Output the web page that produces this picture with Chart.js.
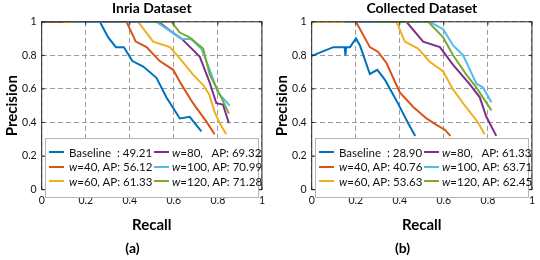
<!DOCTYPE html>
<html>
<head>
<meta charset="utf-8">
<script src="https://cdn.jsdelivr.net/npm/chart.js@4"></script>
<style>
  body { margin: 0; background: #fff; }
  #wrap { position: relative; width: 540px; height: 260px; }
  .panel { position: absolute; top: 0; width: 270px; height: 260px; }
  .panel canvas { position: absolute; left: 0; top: 0; }
  .legend {
    position: absolute; left: 45px; top: 138px; width: 212px; height: 52px;
    background: #fff; border: 1px solid #b4b4b4;
    display: grid; grid-template-columns: 105px 107px; grid-auto-flow: column;
    grid-template-rows: repeat(3, 14.5px); padding-top: 6px; box-sizing: content-box;
    font-family: Lato, sans-serif; font-size: 11.5px; color: #111;
  }
  .item { display: flex; align-items: center; padding-left: 3px; white-space: pre; }
  .item .ln { width: 15px; height: 2px; flex: none; }
  .item .tx { text-align: right; flex: none; }
</style>
</head>
<body>
<div id="wrap">
  <div class="panel" style="left:0"><canvas id="chartA" width="270" height="260"></canvas><div class="legend" id="legendA"></div></div>
  <div class="panel" style="left:270px"><canvas id="chartB" width="270" height="260"></canvas><div class="legend" id="legendB"></div></div>
</div>
<script>
// axis ticks
const tickValues = [0, 0.2, 0.4, 0.6, 0.8, 1];
const tickLabels = ["0", "0.2", "0.4", "0.6", "0.8", "1"];

const seriesNames = ["Baseline", "w=40", "w=60", "w=80", "w=100", "w=120"];
const seriesColors = ["#0072BD", "#D95319", "#EDB120", "#7E2F8E", "#4DBEEE", "#77AC30"];

// Inria dataset, [recall, precision]
const inriaBaseline = [[0, 1], [0.264, 1], [0.302, 0.907], [0.337, 0.849], [0.373, 0.849], [0.412, 0.766], [0.461, 0.733], [0.521, 0.666], [0.566, 0.55], [0.627, 0.424], [0.672, 0.434], [0.725, 0.347]];
const inriaW40 = [[0, 1], [0.385, 1], [0.427, 0.882], [0.476, 0.849], [0.536, 0.766], [0.597, 0.714], [0.634, 0.627], [0.687, 0.515], [0.748, 0.405], [0.785, 0.33]];
const inriaW60 = [[0.1, 1], [0.438, 1], [0.506, 0.882], [0.582, 0.849], [0.627, 0.782], [0.687, 0.685], [0.733, 0.623], [0.76, 0.569], [0.785, 0.463], [0.808, 0.395], [0.838, 0.33]];
const inriaW80 = [[0.2, 1], [0.53, 1], [0.59, 0.94], [0.634, 0.901], [0.718, 0.791], [0.763, 0.637], [0.793, 0.515], [0.823, 0.507], [0.85, 0.395]];
const inriaW100 = [[0.15, 1], [0.521, 1], [0.582, 0.946], [0.634, 0.898], [0.678, 0.898], [0.725, 0.84], [0.763, 0.714], [0.8, 0.578], [0.82, 0.55], [0.853, 0.501]];
const inriaW120 = [[0.5, 1], [0.589, 1], [0.627, 0.936], [0.672, 0.907], [0.733, 0.84], [0.763, 0.685], [0.808, 0.569], [0.85, 0.453]];
const inriaAP = ["49.21", "56.12", "61.33", "69.32", "70.99", "71.28"];

// Collected dataset
const colBaseline = [[0, 0.797], [0.098, 0.849], [0.15, 0.849], [0.153, 0.8], [0.157, 0.849], [0.174, 0.849], [0.201, 0.901], [0.219, 0.859], [0.264, 0.689], [0.298, 0.714], [0.332, 0.656], [0.385, 0.53], [0.438, 0.395], [0.47, 0.32]];
const colW40 = [[0.15, 1], [0.201, 1], [0.264, 0.849], [0.302, 0.82], [0.34, 0.753], [0.4, 0.579], [0.461, 0.492], [0.521, 0.424], [0.566, 0.386], [0.604, 0.357], [0.63, 0.32]];
const colW60 = [[0, 1], [0.385, 1], [0.423, 0.882], [0.483, 0.84], [0.536, 0.762], [0.597, 0.704], [0.64, 0.6], [0.69, 0.51], [0.755, 0.4], [0.785, 0.33]];
const colW80 = [[0.2, 1], [0.43, 1], [0.506, 0.882], [0.582, 0.849], [0.642, 0.743], [0.718, 0.627], [0.763, 0.55], [0.793, 0.434], [0.838, 0.32]];
const colW100 = [[0.15, 1], [0.536, 1], [0.597, 0.956], [0.642, 0.859], [0.687, 0.801], [0.748, 0.631], [0.778, 0.608], [0.816, 0.521]];
const colW120 = [[0.3, 1], [0.529, 1], [0.597, 0.907], [0.642, 0.801], [0.702, 0.685], [0.748, 0.608], [0.816, 0.472]];
const colAP = ["28.90", "40.76", "53.63", "61.33", "63.71", "62.45"];

const FONT = "Lato, 'Open Sans', sans-serif";

// box + inner ticks like matlab
const framePlugin = {
  id: "frame",
  afterDatasetsDraw(chart) {
    const { ctx, chartArea: a, scales } = chart;
    ctx.save();
    ctx.strokeStyle = "#262626";
    ctx.lineWidth = 1;
    ctx.strokeRect(a.left, a.top, a.right - a.left, a.bottom - a.top);
    ctx.beginPath();
    tickValues.forEach(v => {
      const x = scales.x.getPixelForValue(v);
      const y = scales.y.getPixelForValue(v);
      ctx.moveTo(x, a.bottom); ctx.lineTo(x, a.bottom - 3);
      ctx.moveTo(x, a.top); ctx.lineTo(x, a.top + 3);
      ctx.moveTo(a.left, y); ctx.lineTo(a.left + 3, y);
      ctx.moveTo(a.right, y); ctx.lineTo(a.right - 3, y);
    });
    ctx.stroke();
    ctx.restore();
  }
};

function axis(titleText, isX) {
  return {
    type: "linear",
    min: 0,
    max: 1,
    afterBuildTicks: s => { s.ticks = tickValues.map(v => ({ value: v })); },
    afterFit: s => { if (!isX) s.width = 38.7; },
    ticks: {
      padding: 5,
      color: "#111",
      font: { family: FONT, size: 10.5 },
      maxRotation: 0,
      autoSkip: false,
      callback: (v, i) => tickLabels[i]
    },
    grid: { color: "#9c9c9c", drawTicks: false, lineWidth: 1 },
    border: { display: false, dash: [5, 3] },
    title: {
      display: true,
      text: titleText,
      color: "#000",
      font: { family: FONT, size: 15, weight: "bold" },
      padding: isX ? { top: 4, bottom: 3 } : { top: 0, bottom: 0 }
    }
  };
}

function makeChart(canvasId, legendId, title, caption, series, ap) {
  const datasets = series.map((pts, i) => ({
    label: seriesNames[i],
    data: pts.map(p => ({ x: p[0], y: p[1] })),
    borderColor: seriesColors[i],
    borderWidth: 2,
    pointRadius: 0,
    showLine: true,
    fill: false,
    tension: 0,
    order: series.length - i
  }));

  new Chart(document.getElementById(canvasId).getContext("2d"), {
    type: "scatter",
    data: { datasets: datasets },
    options: {
      responsive: false,
      animation: false,
      layout: { padding: { left: 3, right: 8, top: 0, bottom: 0 } },
      plugins: {
        legend: { display: false },
        tooltip: { enabled: false },
        title: {
          display: true,
          text: title,
          fullSize: false,
          color: "#000",
          font: { family: FONT, size: 14, weight: "bold" },
          padding: { top: 0, bottom: 5 }
        },
        subtitle: {
          display: true,
          text: caption,
          position: "bottom",
          color: "#000",
          font: { family: FONT, size: 14, weight: "bold" },
          padding: { top: 3, bottom: 3 }
        }
      },
      scales: {
        x: axis("Recall", true),
        y: axis("Precision", false)
      }
    },
    plugins: [framePlugin]
  });

  // legend, two columns
  const box = document.getElementById(legendId);
  seriesNames.forEach((name, i) => {
    let text;
    if (i === 0) text = name + "  : " + ap[i];
    else {
      const n = name.replace("w", "");
      const gap = i === 3 ? ",   AP: " : ", AP: ";
      text = "<i>w</i>" + n + gap + ap[i];
    }
    const w = i < 3 ? 80 : 86;
    const item = document.createElement("div");
    item.className = "item";
    item.innerHTML = `<span class="ln" style="background:${seriesColors[i]}"></span>` +
      `<span class="tx" style="width:${w}px;margin-left:${i < 3 ? 5 : 3}px">${text}</span>`;
    box.appendChild(item);
  });
}

makeChart("chartA", "legendA", "Inria Dataset", "(a)",
  [inriaBaseline, inriaW40, inriaW60, inriaW80, inriaW100, inriaW120], inriaAP);
makeChart("chartB", "legendB", "Collected Dataset", "(b)",
  [colBaseline, colW40, colW60, colW80, colW100, colW120], colAP);
</script>
</body>
</html>
